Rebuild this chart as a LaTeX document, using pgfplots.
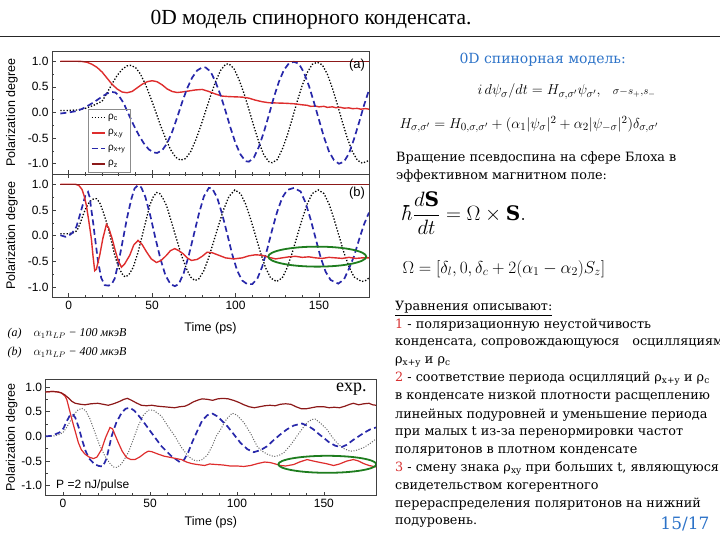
\documentclass[border=0pt]{standalone}
\usepackage{pgfplots}
\pgfplotsset{compat=1.18}
\usepackage{fontspec}
\setmainfont{DejaVu Serif}
\newfontfamily\titlefont{Liberation Serif}
\newfontfamily\arialfont{Liberation Sans}
\definecolor{myred}{RGB}{222,45,45}
\definecolor{dred}{RGB}{140,25,25}
\definecolor{myblue}{RGB}{40,40,170}
\definecolor{mygreen}{RGB}{30,125,30}
\definecolor{slblue}{RGB}{45,115,200}
\definecolor{numred}{RGB}{215,50,50}
\pgfplotsset{
  myax/.style={scale only axis, xmin=-10, xmax=180, ymin=-1.2, ymax=1.2,
    xtick={0,50,100,150}, minor x tick num=4,
    ytick={-1,-0.5,0,0.5,1}, minor y tick num=1,
    tick align=inside, tick pos=left,
    major tick length=4pt, minor tick length=2.2pt,
    axis line style={black!75, line width=0.6pt},
    every tick/.style={black!75, line width=0.5pt},
    ticklabel style={font=\arialfont\fontsize{12}{12}\selectfont},
    /pgf/number format/assume math mode=true,
    yticklabel style={/pgf/number format/.cd, fixed, fixed zerofill, precision=1},
    ylabel={Polarization degree},
    ylabel style={font=\arialfont\fontsize{12.5}{12.5}\selectfont},
    xlabel style={font=\arialfont\fontsize{12.5}{12.5}\selectfont},
    clip=true},
  pc/.style={black, line width=1.3pt, dash pattern=on 1.3pt off 1.8pt},
  pxy/.style={myred, line width=1.4pt},
  pxpy/.style={myblue, line width=1.7pt, dash pattern=on 6pt off 3.5pt},
  pz/.style={dred, line width=1.4pt},
}
\tikzset{body/.style={anchor=base west, font=\fontsize{12.8}{12.8}\selectfont, inner sep=0pt}}
\begin{document}
\begin{tikzpicture}[x=1pt,y=1pt]
\useasboundingbox (0,0) rectangle (720,540);
% title
\node[anchor=base, font=\titlefont\fontsize{21.5}{21.5}\selectfont] at (311,515) {0D модель спинорного конденсата.};
\draw[black!85, line width=0.8pt] (0,504) -- (720,504);

% ---------------- panel (a)
\begin{axis}[myax, at={(52pt,489pt)}, anchor=north west, width=317pt, height=123pt,
  xticklabels={},
  ylabel style={at={([xshift=-40pt]rel axis cs:0,0.5)}, anchor=center},
  legend style={at={(rel axis cs:0.1136,0.016)}, anchor=south west,
    font=\arialfont\fontsize{10}{10}\selectfont, draw=black!45, fill=none,
    row sep=4.6pt, inner sep=2.5pt},
  legend image post style={xscale=0.8},
  legend cell align=left]
\addplot[pc] coordinates {(-5,0.04)(0,0.04)(5,0.05)(10,0.08)(15,0.14)(20,0.22)(23,0.38)(26,0.56)(29,0.72)(32,0.84)(35,0.91)(37,0.92)(40,0.88)(43,0.75)(46,0.55)(49,0.3)(52,0.03)(55,-0.25)(58,-0.5)(61,-0.72)(64,-0.87)(67,-0.93)(70,-0.9)(73,-0.77)(76,-0.55)(79,-0.28)(82,0.02)(85,0.32)(88,0.6)(91,0.82)(94,0.94)(96,0.95)(99,0.86)(102,0.65)(105,0.38)(108,0.06)(111,-0.27)(114,-0.58)(117,-0.83)(120,-0.96)(122,-0.98)(125,-0.92)(128,-0.72)(131,-0.45)(134,-0.12)(137,0.22)(140,0.53)(143,0.78)(146,0.94)(149,0.98)(152,0.93)(155,0.75)(158,0.48)(161,0.16)(164,-0.18)(167,-0.5)(170,-0.76)(173,-0.93)(176,-0.99)(179,-0.95)(180,-0.92)};
\addlegendentry{ρ\textsubscript{c}}
\addplot[pxy] coordinates {(-5,1)(5,1)(8,0.995)(11,0.98)(14,0.94)(17,0.88)(20,0.79)(23,0.67)(26,0.55)(29,0.46)(32,0.4)(35,0.385)(38,0.41)(41,0.48)(44,0.55)(47,0.6)(50,0.62)(53,0.6)(56,0.54)(59,0.46)(62,0.41)(65,0.39)(68,0.4)(72,0.42)(76,0.44)(80,0.45)(84,0.41)(88,0.36)(92,0.32)(96,0.31)(100,0.305)(104,0.3)(108,0.28)(112,0.24)(116,0.21)(120,0.19)(125,0.185)(130,0.18)(135,0.17)(140,0.15)(143,0.14)(145,0.12)(148,0.125)(150,0.11)(153,0.12)(155,0.1)(158,0.11)(160,0.095)(163,0.1)(165,0.085)(168,0.09)(170,0.075)(173,0.08)(175,0.065)(178,0.075)(180,0.065)};
\addlegendentry{ρ\textsubscript{x,y}}
\addplot[pxpy] coordinates {(-5,-0.02)(0,0.0)(5,0.03)(8,0.07)(12,0.14)(16,0.22)(20,0.31)(23,0.37)(26,0.4)(28,0.39)(30,0.33)(33,0.18)(36,-0.04)(39,-0.25)(42,-0.44)(45,-0.6)(48,-0.72)(51,-0.78)(53,-0.79)(56,-0.74)(59,-0.6)(62,-0.38)(65,-0.1)(68,0.2)(71,0.47)(74,0.68)(77,0.82)(80,0.88)(82,0.88)(85,0.8)(88,0.6)(91,0.34)(94,0.03)(97,-0.3)(100,-0.6)(103,-0.82)(106,-0.95)(108,-0.96)(111,-0.88)(114,-0.67)(117,-0.38)(120,-0.05)(123,0.3)(126,0.6)(129,0.83)(132,0.96)(135,0.99)(138,0.95)(141,0.78)(144,0.52)(147,0.2)(150,-0.14)(153,-0.48)(156,-0.76)(159,-0.93)(162,-1.0)(165,-0.96)(168,-0.8)(171,-0.52)(174,-0.2)(177,0.14)(180,0.44)};
\addlegendentry{ρ\textsubscript{x+y}}
\addplot[pz] coordinates {(-5,1)(180,1)};
\addlegendentry{ρ\textsubscript{z}}
\node[font=\arialfont\fontsize{13}{13}\selectfont] at (rel axis cs:0.962,0.886) {(a)};
\end{axis}

% ---------------- panel (b)
\begin{axis}[myax, at={(52pt,366pt)}, anchor=north west, width=317pt, height=123.5pt,
  xtick pos=both,
  xlabel={Time (ps)},
  xlabel style={at={([yshift=-31pt]rel axis cs:0.5,0)}, anchor=center},
  ylabel style={at={([xshift=-40pt]rel axis cs:0,0.5)}, anchor=center}]
\addplot[pc] coordinates {(-5,0.04)(0,0.04)(3,0.06)(5,0.1)(7,0.25)(8.6,0.4)(10.5,0.55)(12.5,0.66)(14.5,0.71)(16.6,0.72)(18.5,0.65)(20.5,0.48)(22.6,0.27)(25,-0.02)(27.6,-0.38)(30,-0.62)(32.6,-0.77)(34,-0.8)(36,-0.76)(38.6,-0.62)(41.6,-0.32)(44.6,0.07)(46.6,0.33)(48.6,0.59)(50.6,0.75)(52.6,0.84)(54.6,0.82)(56.6,0.72)(58.6,0.59)(61.6,0.27)(64.6,-0.06)(67.6,-0.38)(70.6,-0.64)(73,-0.8)(75.6,-0.87)(78,-0.84)(81,-0.68)(84,-0.42)(87,-0.1)(90,0.22)(93,0.52)(96,0.76)(99.6,0.89)(103,0.82)(106,0.62)(109,0.33)(112,0.0)(115,-0.33)(118,-0.62)(121,-0.82)(124.6,-0.89)(128,-0.82)(131,-0.62)(134,-0.33)(137,0.0)(140,0.33)(143,0.62)(146,0.82)(149.6,0.89)(153,0.82)(156,0.62)(159,0.33)(162,0.0)(165,-0.33)(168,-0.6)(171,-0.8)(175.6,-0.89)(178,-0.87)(180,-0.82)};
\addplot[pxpy] coordinates {(-5,0.01)(-2,-0.02)(0,0.0)(2,0.05)(4.6,0.17)(6.5,0.38)(8.6,0.62)(10,0.78)(11.6,0.85)(12.6,0.75)(13.6,0.5)(14.6,0.27)(16,-0.1)(17.6,-0.5)(19.5,-0.82)(21.6,-0.96)(24,-0.97)(26,-0.93)(27.6,-0.83)(30,-0.5)(32.6,-0.06)(35,0.35)(37.6,0.72)(39.5,0.92)(41.5,0.98)(43.5,0.94)(46,0.75)(49,0.38)(52,-0.05)(55,-0.45)(58,-0.77)(61,-0.94)(63.6,-0.98)(66,-0.94)(69,-0.72)(72,-0.38)(75,0.02)(78,0.42)(81,0.76)(84,0.93)(86,0.92)(89,0.74)(92,0.42)(95,0.04)(98,-0.36)(101,-0.68)(104,-0.87)(107,-0.94)(110,-0.94)(113,-0.84)(116,-0.6)(119,-0.26)(122,0.12)(125,0.47)(128,0.74)(131,0.89)(135,0.93)(139,0.86)(142,0.64)(145,0.32)(148,-0.05)(151,-0.42)(154,-0.7)(157,-0.86)(161.6,-0.93)(165,-0.85)(168,-0.64)(171,-0.4)(174,-0.08)(177,0.22)(180,0.45)};
\addplot[pxy] coordinates {(-5,1)(4,1)(6,0.98)(8,0.9)(9.5,0.75)(10.6,0.59)(12,0.3)(13.6,-0.06)(14.6,-0.4)(15.6,-0.68)(16.6,-0.65)(18.6,-0.38)(20.5,-0.05)(22.6,0.22)(24,0.15)(26,-0.05)(27.6,-0.25)(29.6,-0.48)(31.6,-0.61)(33.5,-0.55)(36.6,-0.38)(39,-0.18)(41.6,-0.09)(44,-0.17)(46.6,-0.31)(49.5,-0.45)(52.6,-0.52)(55.5,-0.48)(58.6,-0.38)(61,-0.29)(63.6,-0.25)(66,-0.29)(68.6,-0.35)(71,-0.43)(73.6,-0.48)(77,-0.46)(80,-0.4)(83,-0.32)(86,-0.33)(90,-0.38)(94,-0.43)(99,-0.45)(104,-0.43)(108,-0.39)(112,-0.37)(116,-0.38)(120,-0.42)(124,-0.45)(128,-0.43)(132,-0.41)(136,-0.4)(140,-0.42)(144,-0.41)(148,-0.43)(152,-0.44)(156,-0.42)(160,-0.43)(164,-0.44)(168,-0.42)(172,-0.44)(176,-0.43)(180,-0.43)};
\addplot[pz] coordinates {(-5,1)(180,1)};
\draw[mygreen, line width=1.8pt] (axis cs:149,-0.406) ellipse [x radius=49pt, y radius=10pt];
\node[font=\arialfont\fontsize{13}{13}\selectfont] at (rel axis cs:0.962,0.846) {(b)};
\end{axis}

% notes
\node[anchor=base west, font=\titlefont\itshape\fontsize{12}{12}\selectfont] at (4,203) {(a)\quad $\alpha_1 n_{LP}$ − 100 мкэВ};
\node[anchor=base west, font=\titlefont\itshape\fontsize{12}{12}\selectfont] at (4,184) {(b)\quad $\alpha_1 n_{LP}$ − 400 мкэВ};

% ---------------- experiment
\begin{axis}[myax, at={(45.7pt,160.4pt)}, anchor=north west, width=330.3pt, height=116pt,
  ymax=1.15,
  xlabel={Time (ps)},
  xlabel style={at={([yshift=-27pt]rel axis cs:0.5,0)}, anchor=center},
  ylabel style={at={([xshift=-34pt]rel axis cs:0,0.5)}, anchor=center}]
\addplot[black!60, line width=1pt, dash pattern=on 1pt off 1.6pt] coordinates {(-10,0.0)(-5,0.01)(-2,0.04)(0,0.08)(2,0.18)(4,0.3)(6,0.42)(8,0.52)(10.7,0.57)(13,0.52)(15.5,0.35)(18.4,0.07)(21,-0.18)(24.1,-0.4)(27,-0.55)(29,-0.62)(30.8,-0.63)(33,-0.58)(35,-0.48)(37.5,-0.33)(40,-0.1)(43.2,0.21)(46,0.42)(49,0.53)(52,0.53)(56.6,0.41)(60,0.22)(64.2,0.01)(68,-0.22)(71.9,-0.4)(75,-0.48)(77.6,-0.5)(80,-0.47)(83,-0.38)(86,-0.18)(88,0.0)(90.6,0.14)(94,0.35)(97.3,0.47)(100,0.43)(104,0.28)(108,0.05)(111.6,-0.2)(114.5,-0.3)(117.4,-0.36)(121.2,-0.41)(124,-0.39)(127,-0.33)(131,-0.17)(134.6,0.01)(137.5,0.15)(140.3,0.28)(143,0.34)(145,0.35)(148,0.27)(151.8,0.14)(154.5,0.0)(157.5,-0.13)(161,-0.24)(165.1,-0.3)(168,-0.29)(172.8,-0.23)(176,-0.16)(178.6,-0.09)(180,-0.05)};
\addplot[pxpy] coordinates {(-10,0.0)(-7,0.01)(-4.6,0.04)(-2,0.08)(0.2,0.16)(2,0.3)(4,0.43)(5.5,0.45)(7,0.38)(9,0.18)(11,-0.08)(13,-0.3)(15,-0.45)(18,-0.56)(20.5,-0.6)(22.9,-0.61)(25,-0.45)(27.9,0.0)(30.5,0.27)(33.7,0.48)(36,0.56)(38.4,0.58)(41,0.52)(45.1,0.35)(50.9,0.07)(56.6,-0.2)(62.3,-0.4)(67.1,-0.52)(69.5,-0.48)(71.9,-0.33)(74.5,-0.1)(77.6,0.14)(80,0.32)(83,0.43)(86,0.46)(89,0.4)(91.5,0.31)(94.4,0.21)(98,0.05)(102,-0.13)(106,-0.26)(109.7,-0.32)(113.5,-0.28)(117.4,-0.2)(121,-0.08)(125,0.04)(128.7,0.14)(132.7,0.22)(137.4,0.26)(141,0.21)(144.1,0.14)(147,0.05)(149.9,-0.03)(153,-0.12)(156.6,-0.19)(160,-0.22)(163.2,-0.17)(167,-0.07)(170,0.0)(173,0.07)(176.6,0.14)(180,0.18)};
\addplot[myred, line width=1.2pt] coordinates {(-10,0.9)(-6,0.91)(-3,0.9)(-1,0.88)(1,0.82)(2.1,0.75)(3.5,0.56)(5,0.35)(7,0.1)(8.8,-0.13)(10.5,-0.27)(12.6,-0.36)(15,-0.42)(17.4,-0.45)(19.5,-0.42)(22.2,-0.26)(24.5,-0.02)(27,0.18)(28.5,0.15)(30,0.02)(31.8,-0.13)(34,-0.3)(36.5,-0.43)(39,-0.47)(41.3,-0.47)(44,-0.42)(47,-0.34)(49,-0.3)(51,-0.31)(54.7,-0.36)(58,-0.4)(62.3,-0.43)(65,-0.45)(68.1,-0.47)(71,-0.52)(73.8,-0.55)(77,-0.57)(81.4,-0.59)(84.3,-0.56)(88,-0.57)(92,-0.58)(96,-0.6)(100,-0.6)(104,-0.61)(108,-0.59)(112,-0.55)(116,-0.52)(119,-0.53)(121.2,-0.55)(125,-0.59)(128,-0.6)(132.7,-0.57)(136,-0.52)(140.3,-0.47)(144,-0.5)(148,-0.53)(151,-0.55)(155.6,-0.59)(159,-0.56)(163.2,-0.5)(167,-0.47)(170,-0.5)(172.8,-0.55)(176,-0.59)(178.6,-0.61)(180,-0.62)};
\addplot[dred, line width=1.2pt] coordinates {(-10,0.9)(-6,0.91)(-3,0.9)(-1,0.88)(1,0.84)(3,0.78)(5,0.71)(7,0.67)(10,0.65)(12.6,0.64)(16,0.66)(20,0.67)(23,0.65)(26,0.63)(29,0.66)(32,0.7)(35,0.75)(37,0.77)(39.4,0.73)(42,0.68)(45,0.63)(48,0.62)(51,0.63)(54.7,0.61)(58,0.6)(61,0.59)(64.2,0.58)(67,0.6)(70,0.61)(72,0.64)(75,0.7)(78,0.74)(80,0.76)(83,0.75)(86,0.73)(89,0.76)(92,0.77)(95,0.76)(98,0.73)(101,0.69)(104,0.64)(107,0.6)(110,0.58)(113,0.6)(116,0.62)(119,0.63)(122,0.62)(125,0.65)(128,0.66)(131,0.65)(134,0.6)(137,0.56)(140,0.56)(143,0.58)(146,0.6)(150,0.6)(153,0.58)(156,0.59)(159,0.58)(162,0.61)(165,0.65)(167,0.67)(170,0.64)(173,0.66)(176,0.67)(178,0.64)(180,0.63)};
\draw[mygreen, line width=1.8pt] (axis cs:152,-0.566) ellipse [x radius=49pt, y radius=8.5pt];
\node[anchor=base east, font=\titlefont\fontsize{18}{18}\selectfont] at (rel axis cs:0.982,0.897) {exp.};
\node[anchor=west, font=\arialfont\fontsize{12}{12}\selectfont] at (axis cs:-6,-1.0) {P =2 nJ/pulse};
\end{axis}

% ---------------- right column
\node[anchor=base west, text=slblue, font=\fontsize{14}{14}\selectfont] at (456,476) {0D спинорная модель:};
\node[anchor=base west, font=\fontsize{15.5}{15.5}\selectfont] at (474,445) {$i\,d\psi_\sigma/dt = H_{\sigma,\sigma'}\psi_{\sigma'},\ \ {\scriptstyle\sigma - s_+,s_-}$};
\node[anchor=base west, font=\fontsize{15.6}{15.6}\selectfont] at (396,411.7) {$H_{\sigma,\sigma'} = H_{0,\sigma,\sigma'} + (\alpha_1|\psi_\sigma|^2 + \alpha_2|\psi_{-\sigma}|^2)\delta_{\sigma,\sigma'}$};
\node[body] at (396,378.3) {Вращение псевдоспина на сфере Блоха в};
\node[body] at (396,360) {эффективном магнитном поле:};
\node[anchor=west, font=\fontsize{20}{20}\selectfont] at (398,326.7) {$\displaystyle\hbar\frac{d\mathbf{S}}{dt} = \Omega\times\mathbf{S}.$};
\node[anchor=base west, font=\fontsize{18.3}{18.3}\selectfont] at (399,266.7) {$\Omega = [\delta_l, 0, \delta_c + 2(\alpha_1-\alpha_2)S_z]$};
\node[body] at (395,229.3) {\underline{Уравнения описывают:}};
\node[body] at (395,211.7) {\textcolor{numred}{1} - поляризационную неустойчивость};
\node[body] at (395,194) {конденсата, сопровождающуюся\quad осцилляциям};
\node[body] at (395,176.7) {ρ\textsubscript{x+y} и ρ\textsubscript{c}};
\node[body] at (395,158.3) {\textcolor{numred}{2} - соответствие периода осцилляций ρ\textsubscript{x+y} и ρ\textsubscript{c}};
\node[body] at (395,140) {в конденсате низкой плотности расщеплению};
\node[body] at (395,121.7) {линейных подуровней и уменьшение периода};
\node[body] at (395,104) {при малых t из-за перенормировки частот};
\node[body] at (395,86) {поляритонов в плотном конденсате};
\node[body] at (395,68.3) {\textcolor{numred}{3} - смену знака ρ\textsubscript{xy} при больших t, являющуюся};
\node[body] at (395,50) {свидетельством когерентного};
\node[body] at (395,32.7) {перераспределения поляритонов на нижний};
\node[body] at (395,15) {подуровень.};
\node[anchor=base east, text=slblue, font=\fontsize{17}{17}\selectfont] at (713,10) {15/17};
\end{tikzpicture}
\end{document}
